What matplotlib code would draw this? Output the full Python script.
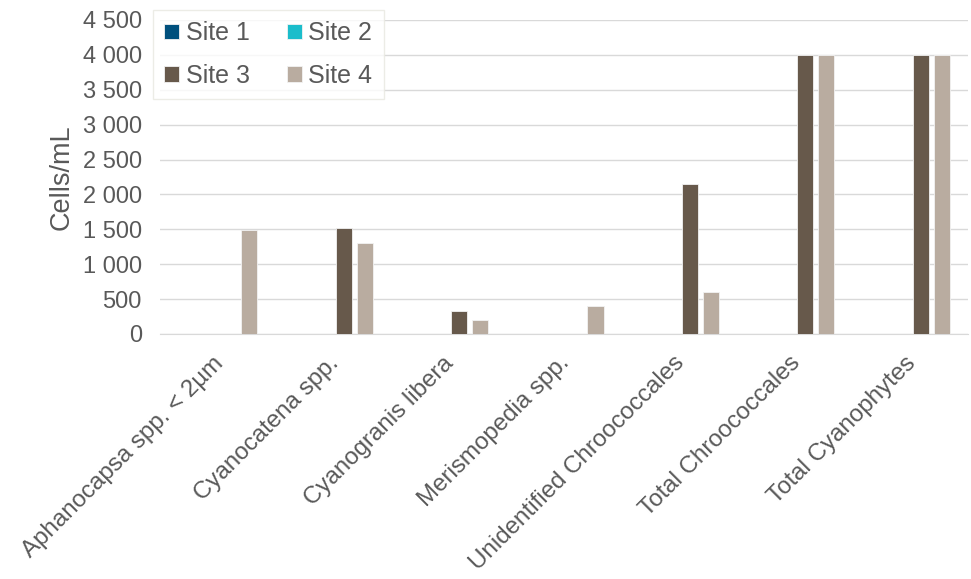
import matplotlib.pyplot as plt
import numpy as np
from matplotlib.ticker import FuncFormatter

plt.rcParams['font.family'] = ['Liberation Sans', 'DejaVu Sans']

categories = [
    "Aphanocapsa spp. < 2µm",
    "Cyanocatena spp.",
    "Cyanogranis libera",
    "Merismopedia spp.",
    "Unidentified Chroococcales",
    "Total Chroococcales",
    "Total Cyanophytes",
]
sites = ["Site 1", "Site 2", "Site 3", "Site 4"]
site1 = [0, 0, 0, 0, 0, 0, 0]
site2 = [0, 0, 0, 0, 0, 0, 0]
site3 = [0, 1520, 330, 0, 2150, 4000, 4000]
site4 = [1490, 1300, 200, 400, 600, 4000, 4000]
colors = ["#00507D", "#1BBDCB", "#67594B", "#B9ACA0"]
text_col = "#595959"

fig = plt.figure(figsize=(9.71, 5.79), dpi=100)
ax = fig.add_axes([160 / 971, 1 - 334 / 579, 808 / 971, 314 / 579])

x = np.arange(len(categories))
step = 0.182
width = 0.14
bars = []
for i, (vals, c, name) in enumerate(zip([site1, site2, site3, site4], colors, sites)):
    b = ax.bar(x + (i - 1.5) * step, vals, width, color=c, label=name,
               edgecolor="#F2F2F2", linewidth=0.6, zorder=3)
    bars.append(b)

ax.set_xlim(-0.5, len(categories) - 0.5)
ax.set_ylim(0, 4500)
ax.set_yticks(np.arange(0, 4501, 500))
ax.yaxis.set_major_formatter(FuncFormatter(lambda v, p: f"{int(v):,}".replace(",", " ")))
ax.grid(axis="y", color="#D9D9D9", linewidth=1, zorder=0)
for s in ["top", "right", "left"]:
    ax.spines[s].set_visible(False)
ax.spines["bottom"].set_color("#D9D9D9")
ax.tick_params(axis="both", length=0, colors=text_col)
ax.tick_params(axis="y", labelsize=17, pad=13)
ax.set_xticks(x - 0.05)
ax.set_xticklabels(categories, rotation=45, ha="right", rotation_mode="anchor", fontsize=17.4)
ax.tick_params(axis="x", pad=13)
ax.set_ylabel("Cells/mL", fontsize=19.5, color=text_col, labelpad=6)

# legend fills row by row: Site 1, Site 2 / Site 3, Site 4
order = [0, 2, 1, 3]
leg = fig.legend([bars[i] for i in order], [sites[i] for i in order],
                 loc="upper left", bbox_to_anchor=(153 / 971, 1 - 10 / 579), ncol=2,
                 fontsize=18, frameon=True, fancybox=False, handlelength=0.6,
                 handleheight=0.6, handletextpad=0.25, columnspacing=1.5,
                 labelspacing=0.75, borderpad=0.45, borderaxespad=0)
leg.get_frame().set_edgecolor("#E8E8E0")
leg.get_frame().set_linewidth(1)
for t in leg.get_texts():
    t.set_color(text_col)

fig.savefig("out.png", dpi=100)
